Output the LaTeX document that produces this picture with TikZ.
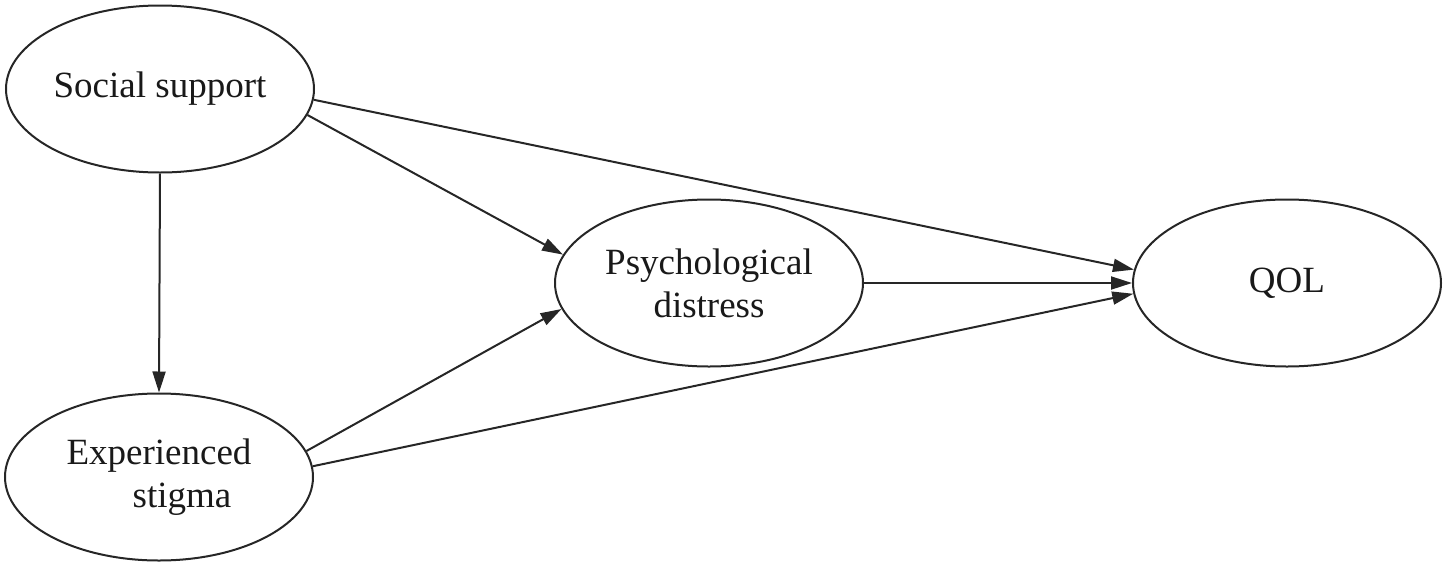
\documentclass[tikz,border=0pt]{standalone}
\usepackage{fontspec}
\setmainfont{Liberation Serif}
\usetikzlibrary{shapes.geometric,arrows.meta}
\begin{document}
\begin{tikzpicture}[x=1pt,y=-1pt,
  var/.style={ellipse,draw=black!85,line width=2pt,inner sep=0pt,
    minimum width=308pt,minimum height=167pt,align=center,
    font=\fontsize{37}{43}\selectfont,text=black!90},
  path/.style={draw=black!85,line width=2pt,
    -{Triangle[length=21pt,width=13pt]}}]
\useasboundingbox (0,0) rectangle (1446,579);
\node[var] (ss) at (160,89) {\raisebox{-4pt}{Social support}};
\node[var] (es) at (159,477) {Experienced\\\hspace*{46pt}stigma};
\node[var] (pd) at (709,283) {Psychological\\distress};
\node[var] (q) at (1287,283) {\raisebox{-4pt}{QOL}};
\draw[path] (ss.south) -- (es.north);
\draw[path] (ss.-4) -- (q.175.2);
\draw[path] (ss.-10.3) -- (pd.169.5);
\draw[path] (es.10.1) -- (pd.190.4);
\draw[path] (es.4.5) -- (q.184.5);
\draw[path] (pd.0) -- (q.180);
\end{tikzpicture}
\end{document}
